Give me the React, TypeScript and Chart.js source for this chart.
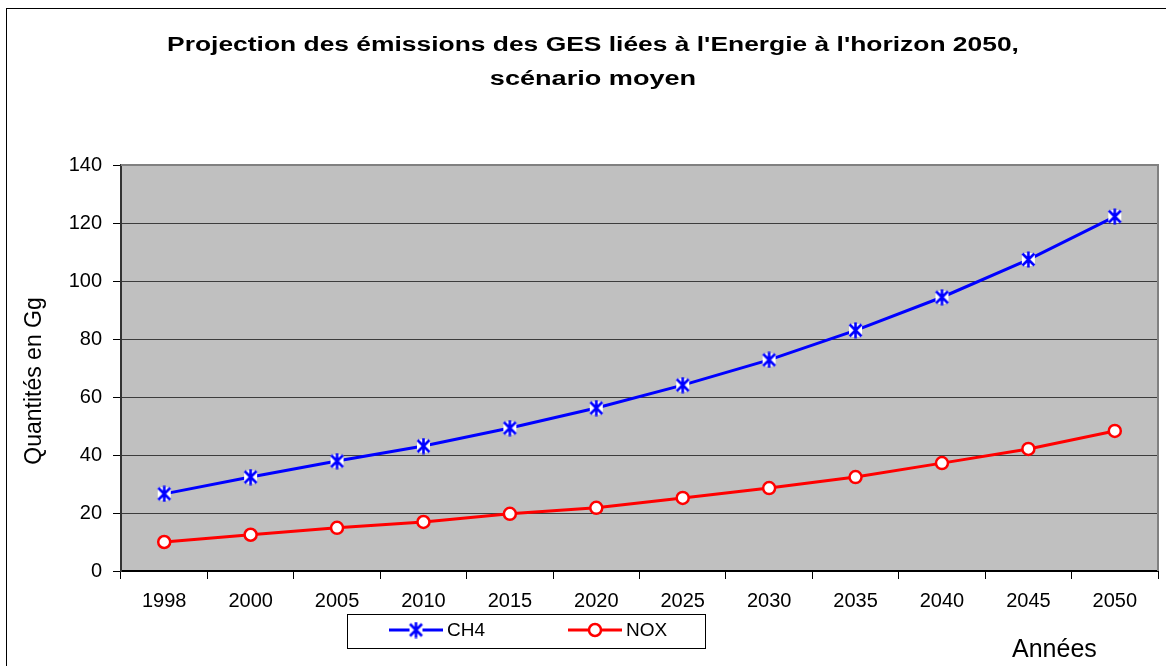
import React, { useEffect, useRef } from 'react';
import { Chart, registerables } from 'chart.js';

Chart.register(...registerables);

const years = ['1998', '2000', '2005', '2010', '2015', '2020', '2025', '2030', '2035', '2040', '2045', '2050'];
const ch4 = [26.6, 32.4, 37.9, 43.1, 49.3, 56.2, 64.1, 72.8, 83.0, 94.4, 107.4, 122.2];
const nox = [10.0, 12.5, 14.9, 16.9, 19.7, 21.8, 25.2, 28.6, 32.4, 37.2, 42.1, 48.3];
const seriesNames = ['CH4', 'NOX'];
const titleLines = ["Projection des émissions des GES liées à l'Energie à l'horizon 2050,", 'scénario moyen'];
const yTitle = 'Quantités en Gg';
const xTitle = 'Années';
const yMin = 0;
const yMax = 140;
const yStep = 20;

const FONT = "'Liberation Sans', Arial, Helvetica, sans-serif";

function makeStar(): HTMLCanvasElement {
  const c = document.createElement('canvas');
  c.width = 17;
  c.height = 17;
  const g = c.getContext('2d')!;
  g.fillStyle = '#ffffff';
  g.fillRect(2, 2, 13, 13);
  g.strokeStyle = '#0000ff';
  g.lineWidth = 2.6;
  g.lineCap = 'butt';
  g.beginPath();
  g.moveTo(8.5, 0.5);
  g.lineTo(8.5, 16.5);
  g.moveTo(2.5, 2.5);
  g.lineTo(14.5, 14.5);
  g.moveTo(14.5, 2.5);
  g.lineTo(2.5, 14.5);
  g.stroke();
  return c;
}

export default function App() {
  const ref = useRef<HTMLCanvasElement | null>(null);

  useEffect(() => {
    const canvas = ref.current;
    if (!canvas) return;
    const star = makeStar();

    const decor = {
      id: 'decor',
      beforeDraw(chart: any) {
        const { ctx, chartArea: a } = chart;
        ctx.save();
        ctx.fillStyle = '#c0c0c0';
        ctx.fillRect(a.left, a.top, a.right - a.left, a.bottom - a.top);
        ctx.restore();
      },
      beforeDatasetsDraw(chart: any) {
        const { ctx, chartArea: a } = chart;
        ctx.save();
        ctx.strokeStyle = '#808080';
        ctx.lineWidth = 2;
        ctx.beginPath();
        ctx.moveTo(a.left, a.top);
        ctx.lineTo(a.right, a.top);
        ctx.lineTo(a.right, a.bottom);
        ctx.stroke();
        ctx.restore();
      },
      afterDraw(chart: any) {
        const { ctx, chartArea: a } = chart;
        ctx.save();
        // chart title (horizontally widened as in the reference)
        ctx.fillStyle = '#000000';
        ctx.font = `bold 20px ${FONT}`;
        ctx.textAlign = 'center';
        ctx.textBaseline = 'middle';
        const tys = [36, 70];
        const sxs = [1.32, 1.355];
        titleLines.forEach((t, i) => {
          ctx.save();
          ctx.translate(586, tys[i]);
          ctx.scale(sxs[i], 1);
          ctx.fillText(t, 0, 0);
          ctx.restore();
        });
        // y axis title
        ctx.save();
        ctx.font = `23px ${FONT}`;
        ctx.translate(28, 372);
        ctx.rotate(-Math.PI / 2);
        ctx.textAlign = 'center';
        ctx.textBaseline = 'middle';
        ctx.fillText(yTitle, 0, 0);
        ctx.restore();
        // legend box
        const L = { x: 340, y: 605, w: 358, h: 34 };
        ctx.fillStyle = '#ffffff';
        ctx.fillRect(L.x, L.y, L.w, L.h);
        ctx.strokeStyle = '#000000';
        ctx.lineWidth = 1;
        ctx.strokeRect(L.x + 0.5, L.y + 0.5, L.w, L.h);
        const starts = [382, 561];
        const ly = L.y + 16;
        chart.data.datasets.forEach((ds: any, i: number) => {
          const sx = starts[i];
          ctx.strokeStyle = ds.borderColor;
          ctx.lineWidth = 3;
          ctx.beginPath();
          ctx.moveTo(sx, ly);
          ctx.lineTo(sx + 54, ly);
          ctx.stroke();
          const cx = sx + 27;
          if (ds.pointStyle === 'circle') {
            ctx.fillStyle = '#ffffff';
            ctx.strokeStyle = ds.borderColor;
            ctx.lineWidth = 2.5;
            ctx.beginPath();
            ctx.arc(cx, ly, 6, 0, Math.PI * 2);
            ctx.fill();
            ctx.stroke();
          } else {
            ctx.drawImage(star, cx - star.width / 2, ly - star.height / 2);
          }
          ctx.fillStyle = '#000000';
          ctx.font = `19px ${FONT}`;
          ctx.textAlign = 'left';
          ctx.textBaseline = 'middle';
          ctx.fillText(seriesNames[i], sx + 58, ly + 1);
        });
        // x axis title
        ctx.fillStyle = '#000000';
        ctx.font = `25px ${FONT}`;
        ctx.textAlign = 'left';
        ctx.textBaseline = 'alphabetic';
        ctx.fillText(xTitle, 1005, 648);
        ctx.restore();
      },
    };

    const chart = new Chart(canvas, {
      type: 'line',
      data: {
        labels: years,
        datasets: [
          {
            label: seriesNames[0],
            data: ch4,
            borderColor: '#0000ff',
            backgroundColor: '#ffffff',
            borderWidth: 3,
            pointStyle: star as any,
            pointRadius: 8,
            pointHoverRadius: 8,
            tension: 0,
            fill: false,
          },
          {
            label: seriesNames[1],
            data: nox,
            borderColor: '#ff0000',
            backgroundColor: '#ffffff',
            borderWidth: 3,
            pointStyle: 'circle',
            pointRadius: 6,
            pointHoverRadius: 6,
            pointBorderWidth: 2.5,
            pointBackgroundColor: '#ffffff',
            pointBorderColor: '#ff0000',
            tension: 0,
            fill: false,
          },
        ],
      },
      options: {
        responsive: false,
        animation: false,
        events: [],
        layout: { padding: { top: 156, left: 0, right: 0, bottom: 0 } },
        plugins: {
          legend: { display: false },
          tooltip: { enabled: false },
          title: { display: false },
        },
        scales: {
          x: {
            offset: true,
            grid: {
              offset: true,
              drawOnChartArea: false,
              drawTicks: true,
              tickLength: 8,
              tickColor: '#000000',
              color: '#000000',
            },
            border: { color: '#000000', width: 2 },
            ticks: {
              color: '#000000',
              font: { family: FONT, size: 20 },
              padding: 10,
              maxRotation: 0,
              autoSkip: false,
            },
            afterFit: (s: any) => {
              s.height = 98;
            },
          },
          y: {
            min: yMin,
            max: yMax,
            ticks: {
              stepSize: yStep,
              color: '#000000',
              font: { family: FONT, size: 20 },
              padding: 11,
            },
            grid: {
              color: (c: any) => (c.tick && c.tick.value === yMax ? 'rgba(0,0,0,0)' : '#3c3c3c'),
              tickColor: '#000000',
              tickLength: 8,
              lineWidth: 1,
            },
            border: { color: '#333333', width: 2 },
            afterFit: (s: any) => {
              s.width = 114;
            },
          },
          y2: {
            position: 'right',
            display: true,
            grid: { display: false },
            ticks: { display: false },
            border: { display: false },
            afterFit: (s: any) => {
              s.width = 21;
            },
          },
        },
      } as any,
      plugins: [decor],
    });

    return () => chart.destroy();
  }, []);

  return (
    <div style={{ position: 'fixed', left: 0, top: 0, width: 1166, height: 666, overflow: 'hidden', background: '#ffffff' }}>
      <div
        style={{
          position: 'absolute',
          left: 6,
          top: 8,
          width: 1174,
          height: 700,
          border: '1px solid #000000',
          background: '#ffffff',
        }}
      >
        <canvas ref={ref} width={1172} height={660} style={{ display: 'block', width: 1172, height: 660 }} />
      </div>
    </div>
  );
}
